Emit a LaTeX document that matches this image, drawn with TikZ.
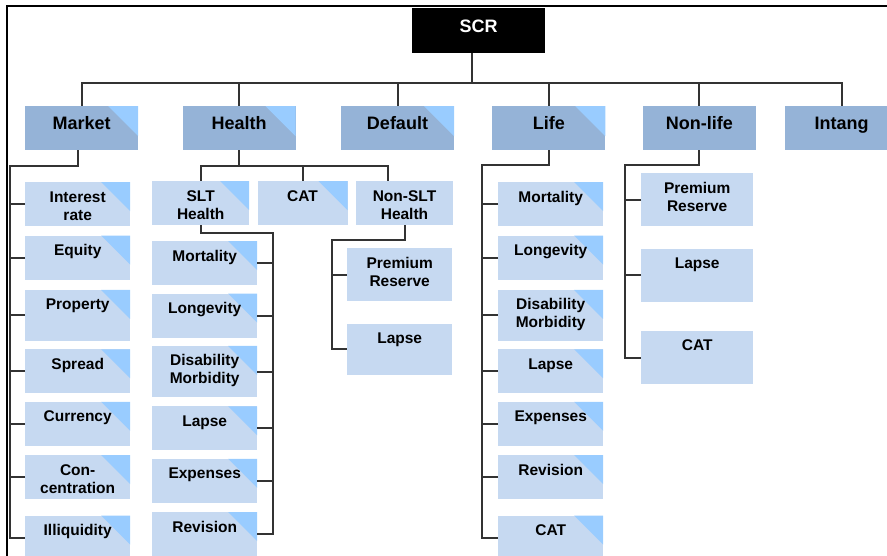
\documentclass[tikz,border=0pt]{standalone}
\usepackage{fontspec}
\setmainfont{Liberation Sans}
\usetikzlibrary{positioning}

\definecolor{riskfill}{HTML}{95B3D7}
\definecolor{subfill}{HTML}{C6D9F1}
\definecolor{cornerfill}{HTML}{99CCFF}
\definecolor{linegray}{HTML}{333333}

\begin{document}
\begin{tikzpicture}[
    x=1pt, y=-1pt,
    lightcorner/.style={path picture={
        \fill[cornerfill] ([xshift=-#1]path picture bounding box.north east)
            -- (path picture bounding box.north east)
            -- ([yshift=-#1]path picture bounding box.north east) -- cycle;}},
    lightcorner/.default=29pt,
    top/.style={fill=black, text=white, text width=133pt, inner sep=0pt, align=center,
        text height=24pt, text depth=21pt, font=\fontsize{18}{20}\selectfont\bfseries},
    module/.style={fill=riskfill, text width=113pt, inner sep=0pt, align=center,
        text height=23pt, text depth=21pt, font=\fontsize{18}{20}\selectfont\bfseries},
    submodule/.style={fill=subfill, text width=105pt, inner sep=0pt, align=center,
        text height=20pt, text depth=24pt, font=\fontsize{15.5}{18}\selectfont\bfseries},
    tall/.style={text depth=31pt},
    high/.style={text depth=33pt},
    link/.style={draw=linegray, line width=2pt}
]
\clip (0,0) rectangle (887,556);

% frame
\draw[line width=2.2pt] (7,556) -- (7,6) -- (887,6);

% SCR and the risk modules
\node[top, anchor=north west] (scr) at (412,8) {SCR};

\node[module, lightcorner=30pt, anchor=north west] (market) at (25,106) {Market};
\node[module, lightcorner=30pt, right=44pt of market] (health) {Health};
\node[module, lightcorner=30pt, right=45pt of health] (default) {Default};
\node[module, lightcorner=30pt, right=38pt of default] (life) {Life};
\node[module, right=37pt of life] (nonlife) {Non-life};
\node[module, right=29pt of nonlife] (intang) {Intang};

% Market sub-modules
\node[submodule, lightcorner, anchor=north west] (interest) at (25,182) {Interest\\rate};
\node[submodule, lightcorner, below=9pt of interest] (equity) {Equity};
\node[submodule, lightcorner, tall, below=10pt of equity] (property) {Property};
\node[submodule, lightcorner, below=8pt of property] (spread) {Spread};
\node[submodule, lightcorner, below=8pt of spread] (currency) {Currency};
\node[submodule, lightcorner, below=9pt of currency] (concentration) {Con-\\centration};
\node[submodule, lightcorner, below=16pt of concentration] (illiquidity) {Illiquidity};

% Health sub-modules
\node[submodule, lightcorner, text width=97pt, anchor=north west] (slt) at (152,181) {SLT\\Health};
\node[submodule, lightcorner, text width=90pt, right=8pt of slt] (hcat) {CAT};
\node[submodule, text width=97pt, right=8pt of hcat] (nonslt) {Non-SLT\\Health};

\node[submodule, lightcorner, anchor=north west] (smort) at (152,241) {Mortality};
\node[submodule, lightcorner, below=8pt of smort] (slong) {Longevity};
\node[submodule, lightcorner, tall, below=8pt of slong] (sdis) {Disability\\Morbidity};
\node[submodule, lightcorner, below=9pt of sdis] (slapse) {Lapse};
\node[submodule, lightcorner, below=8pt of slapse] (sexp) {Expenses};
\node[submodule, lightcorner, below=9pt of sexp] (srev) {Revision};

\node[submodule, high, anchor=north west] (npremium) at (347,248) {Premium\\Reserve};
\node[submodule, tall, below=22pt of npremium] (nlapse) {Lapse};

% Life sub-modules
\node[submodule, lightcorner, anchor=north west] (lmort) at (498,182) {Mortality};
\node[submodule, lightcorner, below=9pt of lmort] (llong) {Longevity};
\node[submodule, lightcorner, tall, below=10pt of llong] (ldis) {Disability\\Morbidity};
\node[submodule, lightcorner, below=8pt of ldis] (llapse) {Lapse};
\node[submodule, lightcorner, below=8pt of llapse] (lexp) {Expenses};
\node[submodule, lightcorner, below=9pt of lexp] (lrev) {Revision};
\node[submodule, lightcorner, below=16pt of lrev] (lcat) {CAT};

% Non-life sub-modules
\node[submodule, high, text width=112pt, anchor=north west] (nlprem) at (641,173) {Premium\\Reserve};
\node[submodule, high, text width=112pt, below=22pt of nlprem] (nllapse) {Lapse};
\node[submodule, high, text width=112pt, below=29pt of nllapse] (nlcat) {CAT};

% SCR to modules
\coordinate (bus) at (0,83);
\draw[link] ([xshift=-7pt]scr.south) -- ([xshift=-7pt]scr.south |- bus);
\draw[link] (market.north) |- (bus -| intang.north) -- (intang.north);
\foreach \n in {health,default,life,nonlife}
    \draw[link] (\n.north) -- (\n.north |- bus);

% Market tree
\coordinate (mbus) at (10,166);
\draw[link] ([xshift=-4pt]market.south) |- (mbus) |- (illiquidity.west);
\foreach \n in {interest,equity,property,spread,currency,concentration}
    \draw[link] (\n.west) -- (\n.west -| mbus);

% Health tree
\coordinate (hbus) at (0,166);
\draw[link] (health.south) -- (health.south |- hbus);
\draw[link] (slt.north) -- (slt.north |- hbus) -| ([xshift=-17pt]nonslt.north);
\draw[link] (hcat.north) -- (hcat.north |- hbus);

\coordinate (sbus) at (273,233);
\draw[link] (slt.south) |- (sbus) |- (srev.east);
\foreach \n in {smort,slong,sdis,slapse,sexp}
    \draw[link] (\n.east) -- (\n.east -| sbus);

\coordinate (nbus) at (332,240);
\draw[link] (nonslt.south) |- (nbus) |- (nlapse.west);
\draw[link] (npremium.west) -- (npremium.west -| nbus);

% Life tree
\coordinate (lbus) at (482,165);
\draw[link] (life.south) |- (lbus) |- (lcat.west);
\foreach \n in {lmort,llong,ldis,llapse,lexp,lrev}
    \draw[link] (\n.west) -- (\n.west -| lbus);

% Non-life tree
\coordinate (nlbus) at (625,165);
\draw[link] (nonlife.south) |- (nlbus) |- (nlcat.west);
\foreach \n in {nlprem,nllapse}
    \draw[link] (\n.west) -- (\n.west -| nlbus);

\end{tikzpicture}
\end{document}
